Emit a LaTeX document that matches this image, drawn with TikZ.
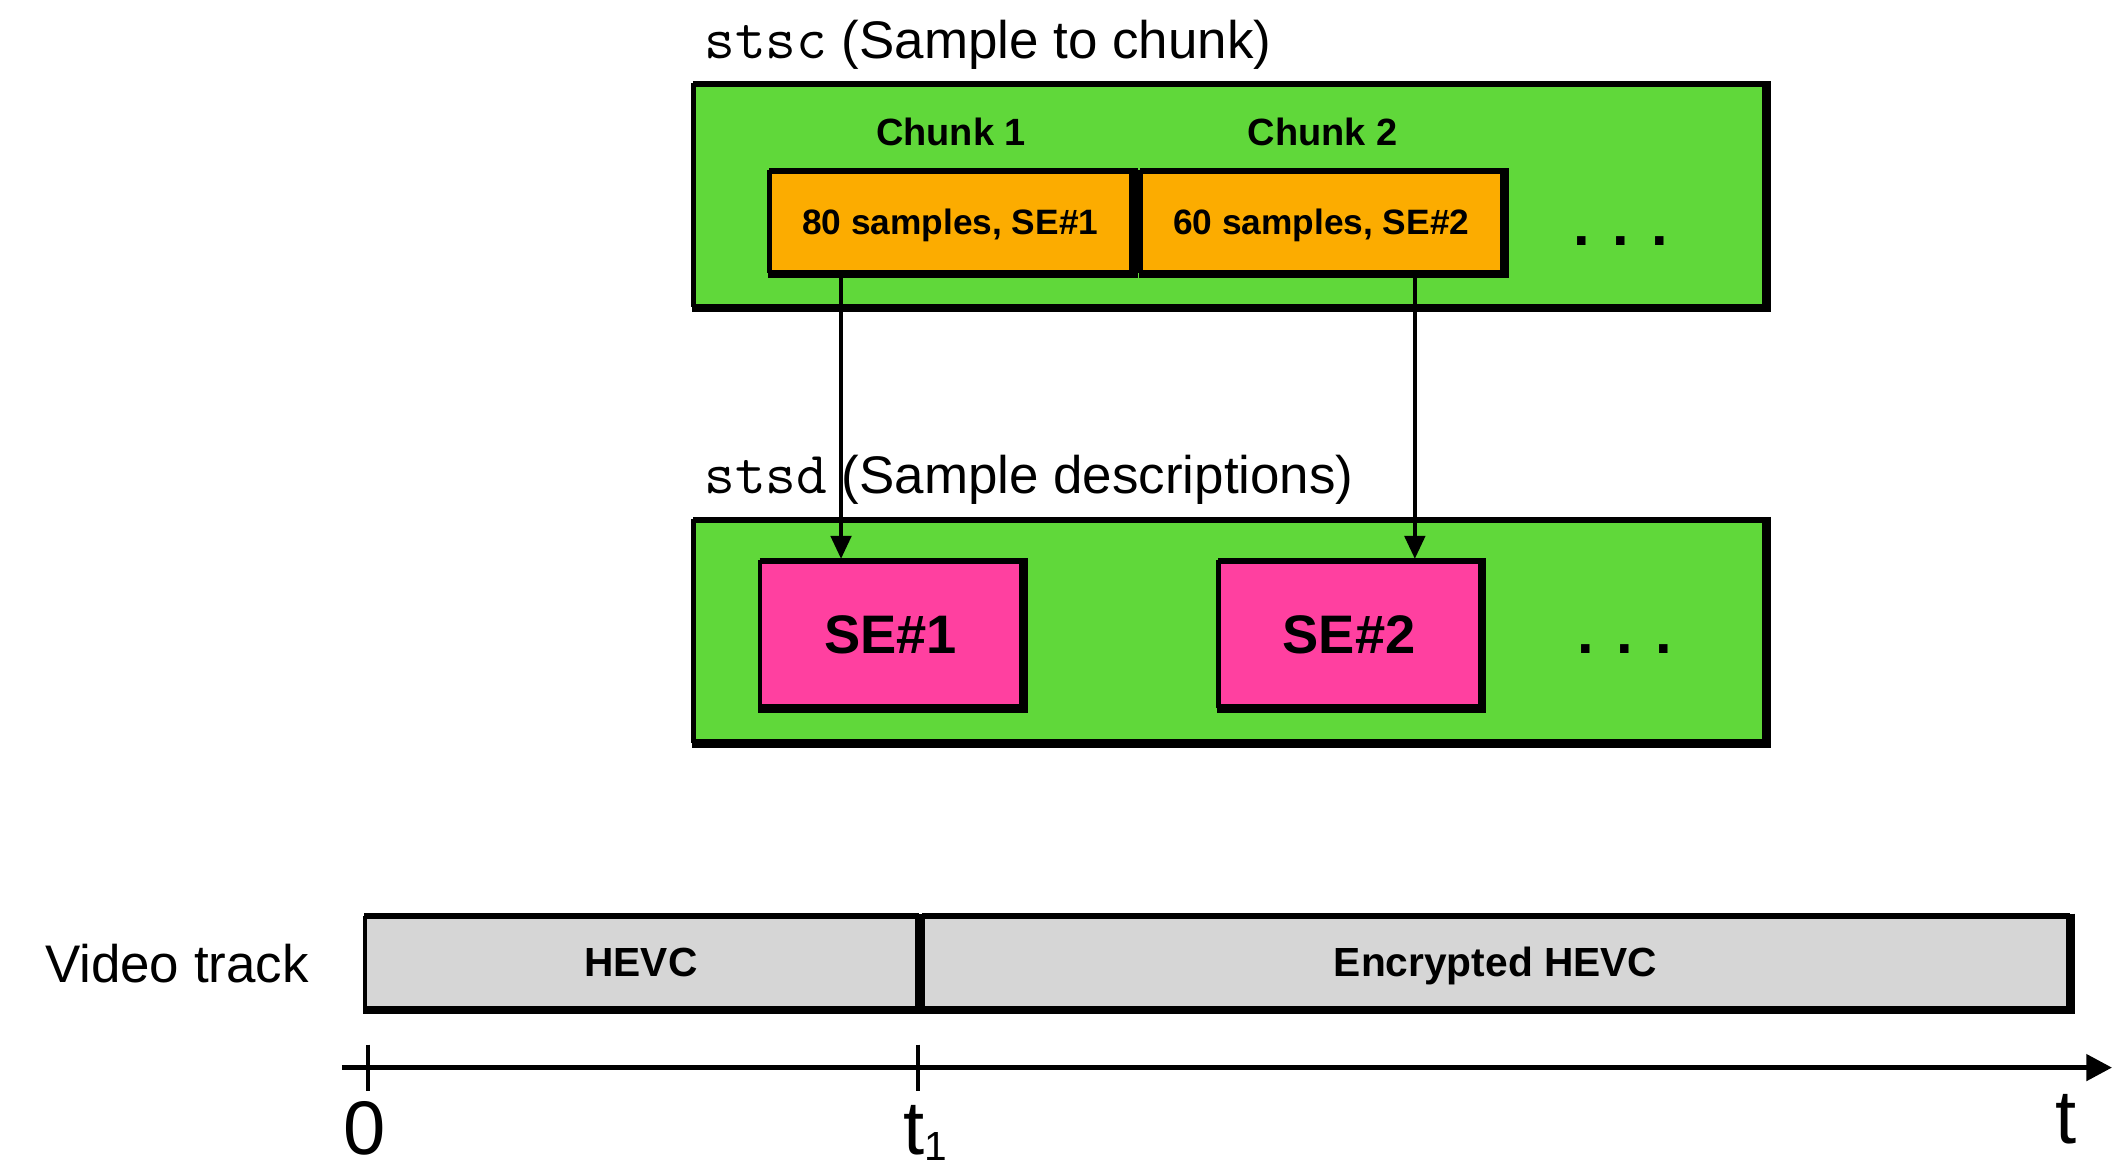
\documentclass[tikz,border=0pt]{standalone}
\usepackage{fontspec}
\setmainfont{Liberation Sans}
\usetikzlibrary{arrows.meta,calc}

\definecolor{boxgreen}{RGB}{96,216,58}
\definecolor{chunkorange}{RGB}{252,172,0}
\definecolor{entrypink}{RGB}{255,64,160}
\definecolor{trackgray}{RGB}{214,214,214}

% inked frame: thin left edge, heavy top, heavier right and bottom edges
\newcommand\heavyframe[1]{%
  \draw[thinedge] ($(#1.north west)+(-1.5,-1)$) -- ($(#1.south west)+(-1.5,2)$);
  \draw[topedge] ($(#1.north west)+(-1,-0.5)$) -- ($(#1.north east)+(2,-0.5)$);
  \draw[baseedge] ($(#1.north east)+(2.5,-2.5)$) -- ($(#1.south east)+(2.5,2.5)$)
    -- ($(#1.south west)+(-2,2.5)$);}

\begin{document}
\begin{tikzpicture}[x=1pt,y=-1pt,
  box/.style={draw=black, line width=1.5pt, inner sep=0pt, outer sep=0pt},
  container/.style={box, fill=boxgreen, minimum width=788pt, minimum height=162pt},
  chunkbox/.style={box, fill=chunkorange, minimum width=265pt, minimum height=73pt,
    text height=19pt, text depth=0pt, font=\bfseries\fontsize{26}{30}\selectfont},
  entrybox/.style={box, fill=entrypink, minimum width=191pt, minimum height=106pt,
    text height=29pt, text depth=0pt, font=\bfseries\fontsize{40}{44}\selectfont},
  trackbox/.style={box, fill=trackgray, minimum height=66pt,
    text height=22pt, text depth=0pt, font=\bfseries\fontsize{30}{34}\selectfont},
  thinedge/.style={line width=1.5pt},
  topedge/.style={line width=4.5pt},
  baseedge/.style={line width=6.5pt, line join=miter},
  title/.style={anchor=base west, inner sep=0pt, font=\fontsize{39}{44}\selectfont},
  header/.style={anchor=base, inner sep=0pt, font=\bfseries\fontsize{28}{32}\selectfont},
  more/.style={anchor=base west, inner sep=0pt, font=\bfseries\fontsize{44}{50}\selectfont},
  axislabel/.style={inner sep=0pt, font=\fontsize{56}{60}\selectfont},
  link/.style={line width=3pt, -{Triangle[length=17pt,width=15pt]}},
]
\useasboundingbox (0,0) rectangle (1568,863);

% sample-to-chunk table
\node[container] (stsc) at (906,143.5) {};
\heavyframe{stsc}
\node[title] (stsctitle) at (519,43) {{\ttfamily\fontsize{44}{48}\selectfont stsc} (Sample to chunk)};
\node[header] (c1head) at (701,107) {Chunk 1};
\node[header] (c2head) at (975,107) {Chunk 2};
\node[chunkbox] (c1) at (700.5,163) {80 samples, SE\#1};
\heavyframe{c1}
\node[chunkbox] (c2) at (974,163) {60 samples, SE\#2};
\heavyframe{c2}
\node[more] (moreA) at (1160,181) {. . .};

% sample descriptions table
\node[container] (stsd) at (906,464.5) {};
\heavyframe{stsd}
\node[title] (stsdtitle) at (519,364) {{\ttfamily\fontsize{44}{48}\selectfont stsd} (Sample descriptions)};
\node[entrybox] (se1) at (656.5,467) {SE\#1};
\heavyframe{se1}
\node[entrybox] (se2) at (994.5,467) {SE\#2};
\heavyframe{se2}
\node[more] (moreB) at (1163,482) {. . .};

% chunk entries point to their sample entries
\coordinate (a1) at (620,0);
\coordinate (a2) at (1043,0);
\draw[link] ($(c1.south -| a1)+(0,3)$) -- ($(se1.north -| a1)+(0,-2)$);
\draw[link] ($(c2.south -| a2)+(0,3)$) -- ($(se2.north -| a2)+(0,-2)$);

% video track
\node[title] (vt) at (33,724) {Video track};
\node[trackbox, minimum width=406pt] (hevc) at (472.5,709) {HEVC};
\heavyframe{hevc}
\node[trackbox, minimum width=843pt] (enc) at (1102.5,709) {Encrypted HEVC};
\heavyframe{enc}

% time axis
\coordinate (axstart) at (252,787);
\coordinate (axend) at (1557,787);
\coordinate (tk0) at (271,787);
\coordinate (tk1) at (677,787);
\draw[line width=4pt, -{Triangle[length=19pt,width=19pt]}] (axstart) -- (axend);
\draw[line width=3pt] ($(tk0)+(0,-17)$) -- ($(tk0)+(0,17)$);
\draw[line width=3pt] ($(tk1)+(0,-17)$) -- ($(tk1)+(0,17)$);
\node[axislabel, anchor=base] (l0) at (269,851) {0};
\node[axislabel, anchor=base west] (l1) at (666,851) {t\raisebox{-0.08em}{\fontsize{30}{32}\selectfont 1}};
\node[axislabel, anchor=base] (lt) at (1523,843) {t};
\end{tikzpicture}
\end{document}
